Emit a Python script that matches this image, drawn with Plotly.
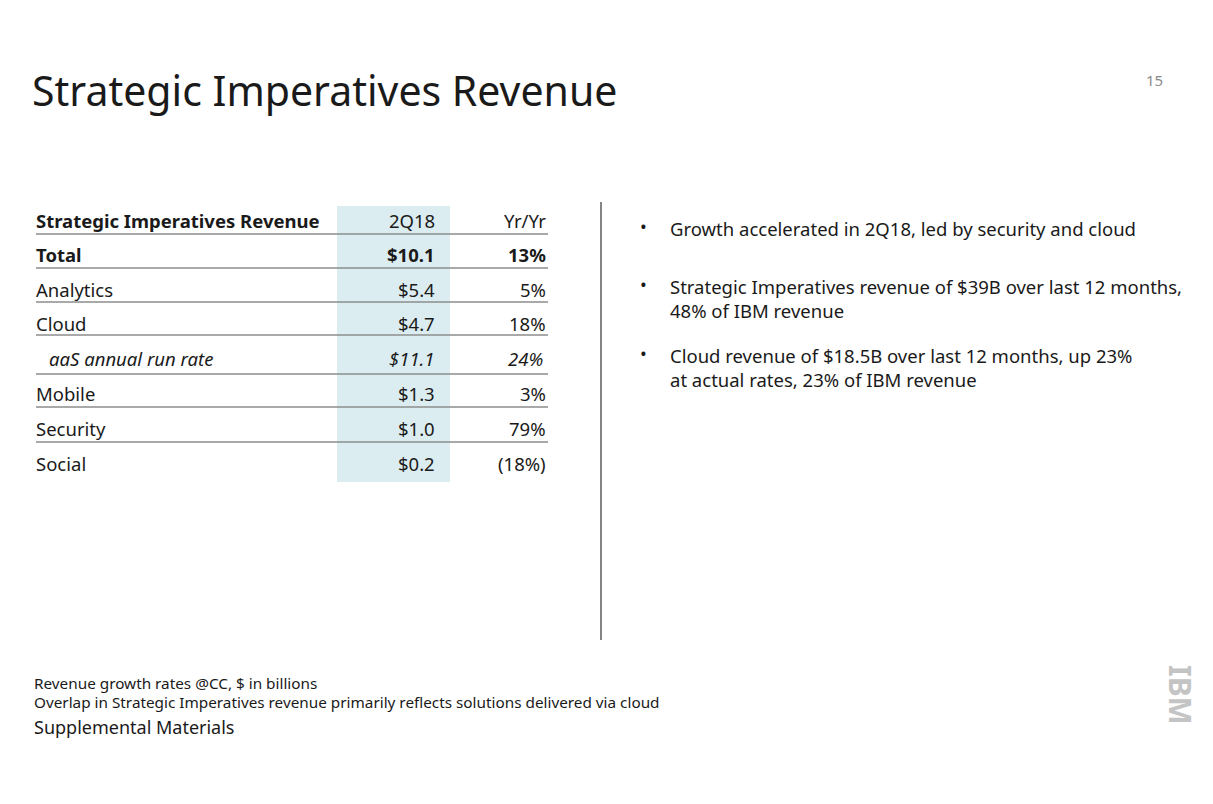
import plotly.graph_objects as go

categories = ["Total", "Analytics", "Cloud", "aaS annual run rate", "Mobile", "Security", "Social"]
values = ["$10.1", "$5.4", "$4.7", "$11.1", "$1.3", "$1.0", "$0.2"]
yoy = ["13%", "5%", "18%", "24%", "3%", "79%", "(18%)"]
header = ["Strategic Imperatives Revenue", "2Q18", "Yr/Yr"]
bullets = [
    "Growth accelerated in 2Q18, led by security and cloud",
    "Strategic Imperatives revenue of $39B over last 12 months,<br>48% of IBM revenue",
    "Cloud revenue of $18.5B over last 12 months, up 23%<br>at actual rates, 23% of IBM revenue",
]

W, H = 1213, 804
OFF = 8
FONT = "Noto Sans"
DARK = "#1a1a1a"

fig = go.Figure()
fig.add_trace(go.Scatter(x=[0, W], y=[0, H], mode="markers", marker=dict(opacity=0), hoverinfo="skip", showlegend=False))

shapes = []
ann = []

def txt(x, y, s, size, anchor="left", color=DARK, bold=False, italic=False, yanchor="middle", **kw):
    if bold:
        s = "<b>" + s + "</b>"
    if italic:
        s = "<i>" + s + "</i>"
    ann.append(dict(x=x, y=y, xref="x", yref="y", text=s, showarrow=False, xanchor=anchor, yanchor=yanchor,
                    font=dict(family=FONT, size=size, color=color), align="left", **kw))

txt(30, 90, "Strategic Imperatives Revenue", 41)
txt(1165, 80, "15", 15, anchor="right", color="#8a8a8a")

shapes.append(dict(type="rect", xref="x", yref="y", x0=337, x1=450, y0=206, y1=482,
                   fillcolor="#dcedf1", line=dict(width=0), layer="below"))

row_y = [254, 289, 323, 358, 393, 428, 463]
line_y = [234, 268, 302, 335, 374, 407, 442]

TS = 18.5
txt(34, 220, header[0], TS, bold=True)
txt(437, 220, header[1], TS, anchor="right")
txt(548, 220, header[2], TS, anchor="right")

for i, (c, v, g) in enumerate(zip(categories, values, yoy)):
    y = row_y[i]
    bold = i == 0
    italic = c.startswith("aaS")
    txt(47 if italic else 34, y, c, TS, bold=bold, italic=italic)
    txt(437, y, v, TS, anchor="right", bold=bold, italic=italic)
    txt(545 if italic else 548, y, g, TS, anchor="right", bold=bold, italic=italic)

for ly in line_y:
    shapes.append(dict(type="line", xref="x", yref="y", x0=36, x1=548, y0=ly, y1=ly,
                       line=dict(color="#8c8c8c", width=1.5)))

shapes.append(dict(type="line", xref="x", yref="y", x0=601, x1=601, y0=202, y1=640,
                   line=dict(color="#333333", width=1.2)))

for by, b in zip([226, 284, 353], bullets):
    txt(643, by, "•", 18, anchor="center", yanchor="middle")
    txt(668, by - 12, b, 18.5, yanchor="top")

txt(32, 683, "Revenue growth rates @CC, $ in billions", 15.3)
txt(32, 702, "Overlap in Strategic Imperatives revenue primarily reflects solutions delivered via cloud", 15.3)
txt(32, 727, "Supplemental Materials", 18)

txt(1181, 695, "<b>IBM</b>", 30, anchor="center", color="#c4c4c4", textangle=90)

fig.update_layout(
    width=W, height=H, margin=dict(l=0, r=0, t=0, b=0),
    paper_bgcolor="white", plot_bgcolor="white",
    xaxis=dict(range=[OFF, W + OFF], visible=False, fixedrange=True),
    yaxis=dict(range=[H + OFF, OFF], visible=False, fixedrange=True),
    shapes=shapes, annotations=ann,
)
fig.write_html("out.html")
